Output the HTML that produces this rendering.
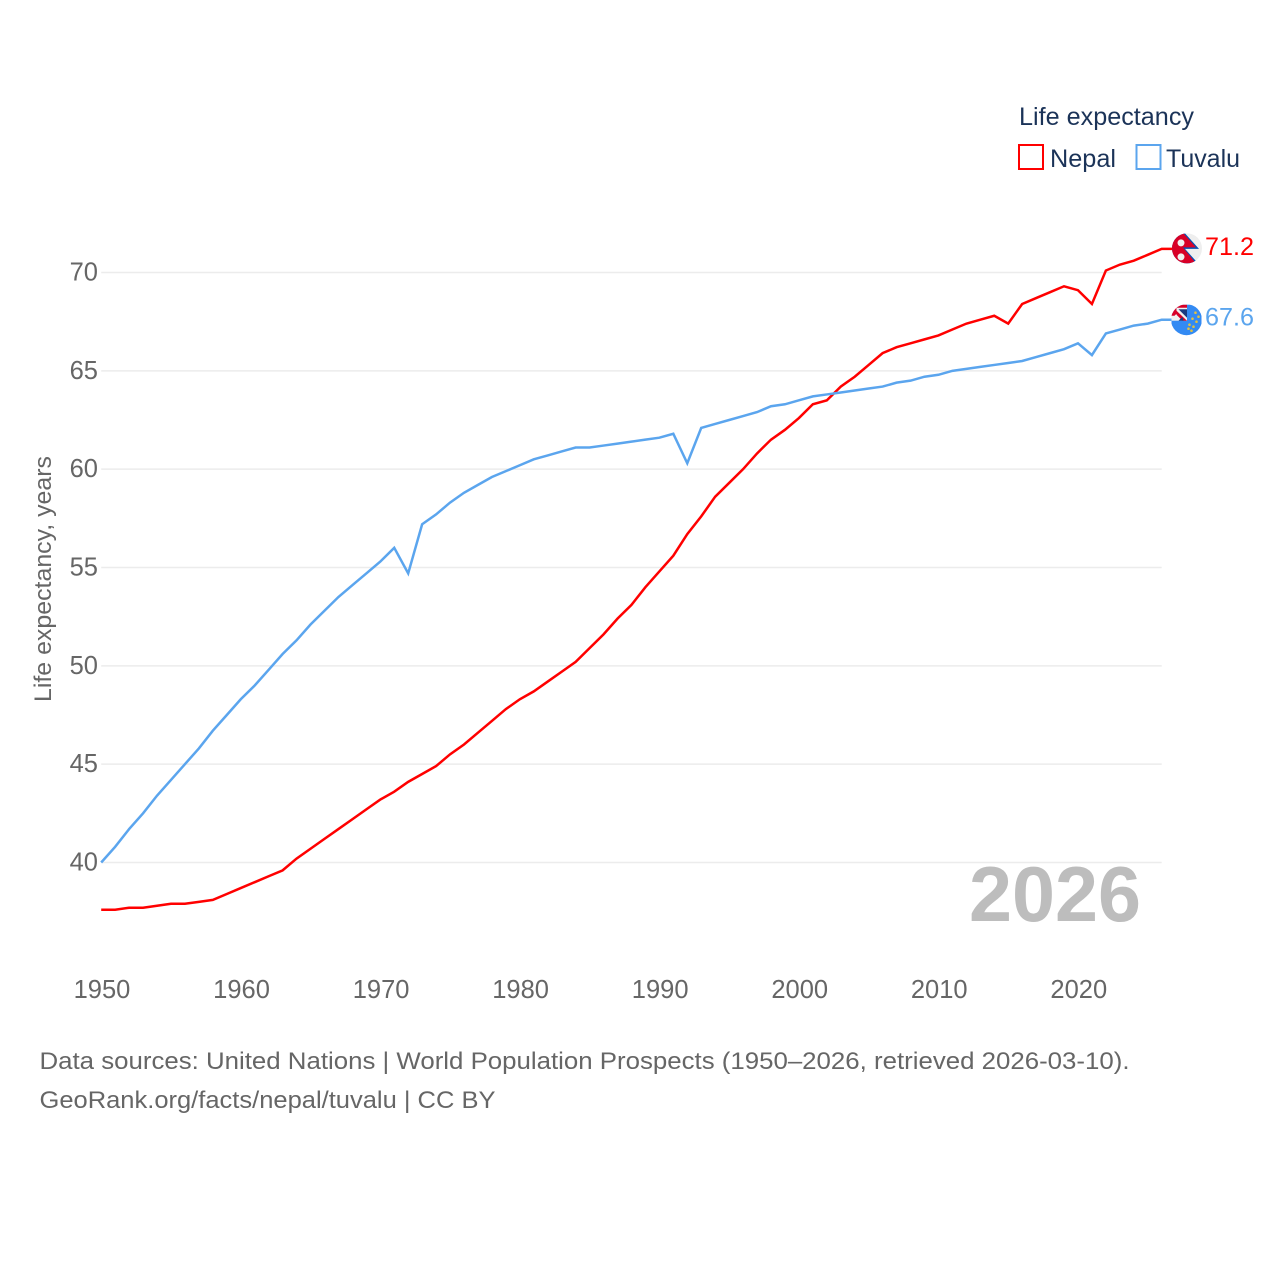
<!DOCTYPE html>
<html lang="en">
<head>
<meta charset="utf-8">
<title>Life expectancy: Nepal and Tuvalu</title>
<style>
html,body{margin:0;padding:0;background:#fff;width:1280px;height:1280px;overflow:hidden}
svg{display:block}
text{font-family:"Liberation Sans",sans-serif}
</style>
</head>
<body>
<svg id="chart" width="1280" height="1280" viewBox="0 0 1280 1280" xmlns="http://www.w3.org/2000/svg">
  <g id="grid"></g>
  <g id="yLabels"></g>
  <g id="xLabels"></g>
  <text transform="translate(51,702) rotate(-90)" font-size="24" fill="#666" textLength="246" lengthAdjust="spacingAndGlyphs">Life expectancy, years</text>
  <text x="969" y="921" font-size="78" font-weight="bold" fill="#bdbdbd" textLength="172" lengthAdjust="spacingAndGlyphs">2026</text>
  <g id="series"></g>

  <g id="nepalFlag">
    <clipPath id="clipN"><circle cx="15" cy="15" r="15"/></clipPath>
    <g clip-path="url(#clipN)">
      <rect width="30" height="30" fill="#eeeeee"/>
      <path d="M0 0H13L27 15.500H13L27 31H0Z" fill="#0052b4"/>
      <path d="M0 0H11.500L24 14H11L24 30H0Z" fill="#d80027"/>
      <circle cx="9" cy="9.500" r="3.500" fill="#f0f0f0"/>
      <circle cx="9" cy="23.500" r="3.500" fill="#f0f0f0"/>
    </g>
  </g>
  <g id="tuvaluFlag">
    <clipPath id="clipT"><circle cx="15" cy="15" r="15.500"/></clipPath>
    <g clip-path="url(#clipT)">
      <rect width="30" height="31" fill="#338af3"/>
      <rect width="15.500" height="16" fill="#f0f0f0"/>
      <path d="M0 0H15.500V3H0Z" fill="#d80027"/>
      <path d="M0 0H5V9L3 11H0Z" fill="#d80027"/>
      <path d="M5 6L15.500 16H11L5 10Z" fill="#d80027"/>
      <path d="M7 4.500L15.500 4.500V13Z" fill="#1a3a80"/>
      <path d="M7 16L11 12L12 16Z" fill="#1a3a80"/>
      <g fill="#e0c040">
        <circle cx="24" cy="8" r="1.300"/>
        <circle cx="27" cy="12" r="1.300"/>
        <circle cx="21" cy="14" r="1.300"/>
        <circle cx="25" cy="17" r="1.300"/>
        <circle cx="18" cy="20" r="1.300"/>
        <circle cx="22" cy="22" r="1.300"/>
        <circle cx="17" cy="24" r="1.300"/>
        <circle cx="20" cy="26" r="1.300"/>
      </g>
    </g>
  </g>
  <text id="nepalEnd" x="1205" font-size="25" fill="#ff0000" textLength="49" lengthAdjust="spacingAndGlyphs"></text>
  <text id="tuvaluEnd" x="1205" font-size="25" fill="#5ba5ee" textLength="49" lengthAdjust="spacingAndGlyphs"></text>

  <g>
    <text x="1019" y="125" font-size="25" fill="#1b3358" textLength="175" lengthAdjust="spacingAndGlyphs">Life expectancy</text>
    <g>
      <rect x="1019" y="145" width="24" height="24" fill="none" stroke="#ff0000" stroke-width="2"/>
      <text x="1050" y="167" font-size="25" fill="#1b3358" textLength="66" lengthAdjust="spacingAndGlyphs">Nepal</text>
    </g>
    <g>
      <rect x="1136.500" y="145" width="24" height="24" fill="none" stroke="#5ba5ee" stroke-width="2"/>
      <text x="1166" y="167" font-size="25" fill="#1b3358" textLength="74" lengthAdjust="spacingAndGlyphs">Tuvalu</text>
    </g>
  </g>

  <text x="39.500" y="1069" font-size="24.500" fill="#666" textLength="1090" lengthAdjust="spacingAndGlyphs">Data sources: United Nations | World Population Prospects (1950–2026, retrieved 2026-03-10).</text>
  <text x="39.500" y="1108" font-size="24.500" fill="#666" textLength="456" lengthAdjust="spacingAndGlyphs">GeoRank.org/facts/nepal/tuvalu | CC BY</text>
</svg>
<script>
const startYear = 1950;
const endYear = 2026;
const xTicks = [1950, 1960, 1970, 1980, 1990, 2000, 2010, 2020];
const yTicks = [40, 45, 50, 55, 60, 65, 70];
const nepal = [
  37.6,37.6,37.7,37.7,37.8,37.9,37.9,38.0,38.1,38.4,
  38.7,39.0,39.3,39.6,40.2,40.7,41.2,41.7,42.2,42.7,
  43.2,43.6,44.1,44.5,44.9,45.5,46.0,46.6,47.2,47.8,
  48.3,48.7,49.2,49.7,50.2,50.9,51.6,52.4,53.1,54.0,
  54.8,55.6,56.7,57.6,58.6,59.3,60.0,60.8,61.5,62.0,
  62.6,63.3,63.5,64.2,64.7,65.3,65.9,66.2,66.4,66.6,
  66.8,67.1,67.4,67.6,67.8,67.4,68.4,68.7,69.0,69.3,
  69.1,68.4,70.1,70.4,70.6,70.9,71.2
];
const tuvalu = [
  40.0,40.8,41.7,42.5,43.4,44.2,45.0,45.8,46.7,47.5,
  48.3,49.0,49.8,50.6,51.3,52.1,52.8,53.5,54.1,54.7,
  55.3,56.0,54.7,57.2,57.7,58.3,58.8,59.2,59.6,59.9,
  60.2,60.5,60.7,60.9,61.1,61.1,61.2,61.3,61.4,61.5,
  61.6,61.8,60.3,62.1,62.3,62.5,62.7,62.9,63.2,63.3,
  63.5,63.7,63.8,63.9,64.0,64.1,64.2,64.4,64.5,64.7,
  64.8,65.0,65.1,65.2,65.3,65.4,65.5,65.7,65.9,66.1,
  66.4,65.8,66.9,67.1,67.3,67.4,67.6
];

const NS = 'http://www.w3.org/2000/svg';
function xScale(year) {
  return 101.2 + (year - startYear) * (1161.7 - 101.2) / (endYear - startYear);
}
function yScale(value) {
  return 862.5 - (value - 40) * (862.5 - 272.5) / 30;
}

const grid = document.getElementById('grid');
const yLabels = document.getElementById('yLabels');
const xLabels = document.getElementById('xLabels');

yTicks.forEach(function (tick) {
  const line = document.createElementNS(NS, 'line');
  
  
  line.setAttribute('x1', xScale(startYear));
  line.setAttribute('x2', xScale(endYear));
  line.setAttribute('y1', yScale(tick));
  line.setAttribute('y2', yScale(tick));
  line.setAttribute('stroke', '#ececec');
  line.setAttribute('stroke-width', '1.5');
  grid.appendChild(line);

  const label = document.createElementNS(NS, 'text');
  
  
  label.setAttribute('x', '98');
  label.setAttribute('y', yScale(tick) + 8);
  label.setAttribute('text-anchor', 'end');
  label.setAttribute('font-size', '25.5');
  label.setAttribute('fill', '#666');
  label.textContent = tick;
  yLabels.appendChild(label);
});

xTicks.forEach(function (tick) {
  const label = document.createElementNS(NS, 'text');
  
  
  label.setAttribute('x', xScale(tick) + 0.8);
  label.setAttribute('y', '998');
  label.setAttribute('text-anchor', 'middle');
  label.setAttribute('font-size', '25.5');
  label.setAttribute('fill', '#666');
  label.textContent = tick;
  xLabels.appendChild(label);
});

function buildPath(values) {
  let d = '';
  values.forEach(function (v, i) {
    d += (i === 0 ? 'M' : 'L') + xScale(startYear + i).toFixed(2) + ' ' + yScale(v).toFixed(2);
  });
  d += 'H1178';
  return d;
}

const seriesGroup = document.getElementById('series');

const nepalLine = document.createElementNS(NS, 'path');


nepalLine.setAttribute('d', buildPath(nepal));
nepalLine.setAttribute('fill', 'none');
nepalLine.setAttribute('stroke', '#ff0000');
nepalLine.setAttribute('stroke-width', '2.5');
seriesGroup.appendChild(nepalLine);

const tuvaluLine = document.createElementNS(NS, 'path');


tuvaluLine.setAttribute('d', buildPath(tuvalu));
tuvaluLine.setAttribute('fill', 'none');
tuvaluLine.setAttribute('stroke', '#5ba5ee');
tuvaluLine.setAttribute('stroke-width', '2.5');
seriesGroup.appendChild(tuvaluLine);

const nepalLast = nepal[nepal.length - 1];
const tuvaluLast = tuvalu[tuvalu.length - 1];
document.getElementById('nepalFlag').setAttribute('transform', 'translate(1172,' + (yScale(nepalLast) - 15.5) + ')');
document.getElementById('tuvaluFlag').setAttribute('transform', 'translate(1171.5,' + (yScale(tuvaluLast) - 15) + ')');
const nepalEnd = document.getElementById('nepalEnd');
nepalEnd.setAttribute('y', yScale(nepalLast) + 6);
nepalEnd.textContent = nepalLast.toFixed(1);
const tuvaluEnd = document.getElementById('tuvaluEnd');
tuvaluEnd.setAttribute('y', yScale(tuvaluLast) + 6);
tuvaluEnd.textContent = tuvaluLast.toFixed(1);
</script>
</body>
</html>
